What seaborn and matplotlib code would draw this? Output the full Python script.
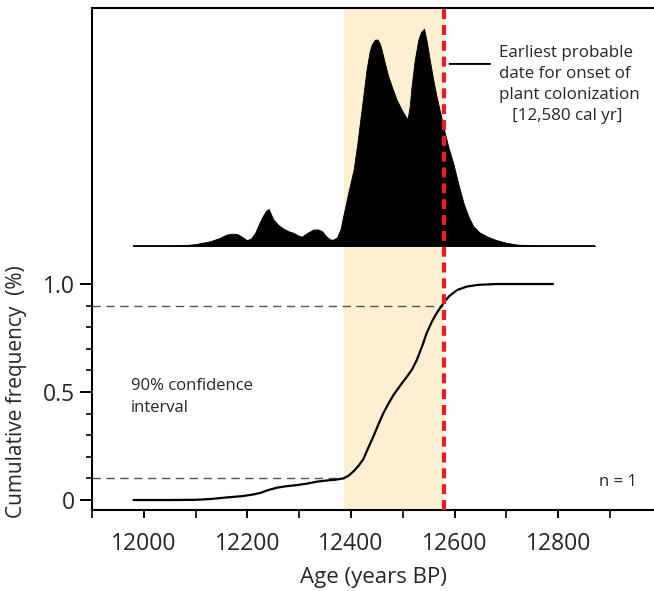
import numpy as np
import pandas as pd
import matplotlib
matplotlib.use("Agg")
import matplotlib.pyplot as plt
from matplotlib.ticker import MultipleLocator
import seaborn as sns

# probability density of the calibrated date
dens_age = [11980, 12040, 12070, 12100, 12128, 12145, 12160, 12170, 12180, 12190,
            12199, 12207, 12215, 12222, 12228, 12235, 12241, 12246, 12250, 12260,
            12270, 12280, 12289, 12297, 12305, 12315, 12327, 12336, 12344, 12352,
            12360, 12366, 12373, 12380, 12386, 12395, 12405, 12412, 12418, 12424,
            12430, 12436, 12440, 12446, 12451, 12455, 12459, 12465, 12472, 12480,
            12488, 12498, 12509, 12513, 12517, 12523, 12530, 12535, 12541, 12546,
            12552, 12558, 12565, 12573, 12581, 12589, 12597, 12607, 12617, 12627,
            12636, 12648, 12662, 12680, 12700, 12720, 12745, 12800, 12871]
dens_height = [0.0, 0.0, 0.002, 0.009, 0.022, 0.036, 0.053, 0.057, 0.056, 0.042,
               0.027, 0.035, 0.061, 0.100, 0.131, 0.160, 0.172, 0.145, 0.123, 0.097,
               0.080, 0.068, 0.061, 0.050, 0.043, 0.060, 0.076, 0.077, 0.069, 0.045,
               0.030, 0.030, 0.040, 0.080, 0.150, 0.250, 0.354, 0.470, 0.586, 0.700,
               0.817, 0.900, 0.933, 0.955, 0.956, 0.940, 0.910, 0.850, 0.786, 0.730,
               0.678, 0.630, 0.586, 0.640, 0.740, 0.860, 0.956, 0.990, 1.006, 0.950,
               0.863, 0.780, 0.694, 0.610, 0.524, 0.450, 0.387, 0.290, 0.201, 0.135,
               0.092, 0.063, 0.045, 0.028, 0.015, 0.007, 0.002, 0.0, 0.0]

# cumulative frequency curve
cum_age = [11980, 12050, 12100, 12130, 12160, 12190, 12212, 12225, 12240, 12257,
           12275, 12295, 12315, 12334, 12355, 12370, 12385, 12395, 12405, 12415,
           12424, 12433, 12443, 12452, 12462, 12472, 12482, 12495, 12508, 12518,
           12527, 12537, 12546, 12556, 12565, 12578, 12590, 12605, 12623, 12645,
           12680, 12790]
cum_freq = [0.0, 0.0, 0.001, 0.005, 0.012, 0.018, 0.026, 0.033, 0.046, 0.057,
            0.064, 0.069, 0.076, 0.085, 0.091, 0.094, 0.100, 0.112, 0.133, 0.160,
            0.190, 0.240, 0.293, 0.345, 0.400, 0.445, 0.486, 0.530, 0.571, 0.605,
            0.648, 0.710, 0.772, 0.825, 0.864, 0.910, 0.945, 0.972, 0.988, 0.996,
            1.0, 1.0]

ci_low_age = 12387
onset_age = 12580
ci_levels = [0.1, 0.9]
ci_ages = [12387, 12578]

dens_base = 1.176

sns.set_style("ticks")
plt.rcParams['font.family'] = ['Open Sans', 'DejaVu Sans']

fig = plt.figure(figsize=(6.54, 5.91), dpi=100)
ax = fig.add_axes([0.1407, 0.137, 0.8593, 0.8495])

ax.axvspan(ci_low_age, onset_age, color='#FDF0D2', lw=0, zorder=0)

dens = pd.DataFrame({"age": dens_age, "h": dens_height})
ax.fill_between(dens["age"], dens_base, dens_base + dens["h"], color='black', lw=0.6, zorder=2)
ax.hlines(dens_base, dens_age[0], dens_age[-1], color='black', lw=1.3, zorder=2)

cum = pd.DataFrame({"age": cum_age, "freq": cum_freq})
sns.lineplot(data=cum, x="age", y="freq", color='black', lw=1.6, ax=ax, zorder=3)

for lvl, a in zip(ci_levels, ci_ages):
    ax.hlines(lvl, 11900, a, color='#555555', lw=1.0, linestyle=(0, (6, 4)), zorder=1)

ax.axvline(onset_age, color='#ED1C24', lw=3, linestyle=(0, (2.4, 1.4)), zorder=4)

ax.annotate("", xy=(12585, 2.019), xytext=(12674, 2.019),
            arrowprops=dict(arrowstyle='-', color='black', lw=1.4))
ax.text(12686, 2.105, "Earliest probable\ndate for onset of\nplant colonization\n   [12,580 cal yr]",
        fontsize=12.2, va='top', ha='left', linespacing=1.42)
ax.text(11975, 0.565, "90% confidence\ninterval", fontsize=12, va='top', ha='left',
        linespacing=1.48)
ax.text(12952, 0.083, "n = 1", fontsize=12, ha='right', va='center')

ax.set_xlim(11900, 12985)
ax.set_ylim(-0.0463, 2.278)
ax.set_xticks([12000, 12200, 12400, 12600, 12800])
ax.xaxis.set_minor_locator(MultipleLocator(100))
ax.set_yticks([0, 0.5, 1.0])
ax.set_yticklabels(["0", "0.5", "1.0"])
ax.set_yticks(np.arange(0.1, 1.0, 0.1), minor=True)

ax.tick_params(axis='both', which='major', labelsize=16.5, width=1.4, color='black')
ax.tick_params(axis='y', which='major', length=9, pad=3)
ax.tick_params(axis='y', which='minor', length=4.5, width=1.4)
ax.tick_params(axis='x', which='both', length=6, width=1.4)
ax.tick_params(axis='x', which='major', pad=10)

ax.set_xlabel("Age (years BP)", fontsize=16, labelpad=8)
ax.set_ylabel("Cumulative frequency  (%)", fontsize=15, labelpad=8)
ax.yaxis.set_label_coords(-0.115, 0.235)

for s in ['left', 'top', 'bottom']:
    ax.spines[s].set_linewidth(1.5)
    ax.spines[s].set_color('black')
ax.spines['right'].set_visible(False)

fig.savefig("out.png", dpi=100)
